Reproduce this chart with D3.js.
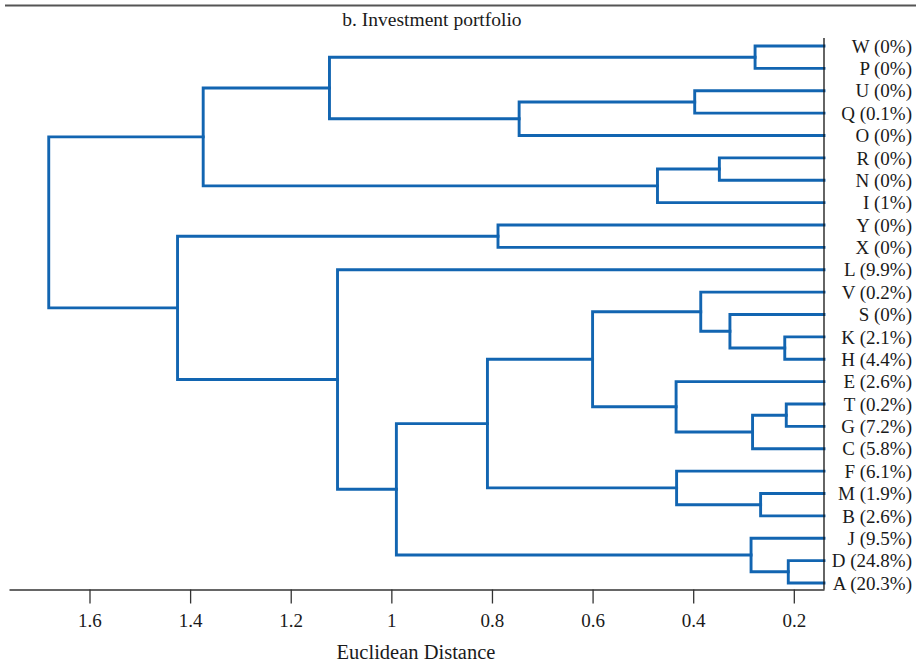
<!DOCTYPE html>
<html>
<head>
<meta charset="utf-8">
<script src="https://cdn.jsdelivr.net/npm/d3@7"></script>
<style>
  html, body { margin: 0; padding: 0; background: #fff; }
  svg { display: block; }
  text { font-family: "Liberation Serif", "DejaVu Serif", serif; fill: #1a1a1a; }
</style>
</head>
<body>
<svg id="chart" width="916" height="665"></svg>
<script>
// ---- data ----
const title = "b. Investment portfolio";
const axisTitle = "Euclidean Distance";
const leaves = ["W","P","U","Q","O","R","N","I","Y","X","L","V","S","K","H","E","T","G","C","F","M","B","J","D","A"];
const shares = ["0%","0%","0%","0.1%","0%","0%","0%","1%","0%","0%","9.9%","0.2%","0%","2.1%","4.4%","2.6%","0.2%","7.2%","5.8%","6.1%","1.9%","2.6%","9.5%","24.8%","20.3%"];
const tickValues = [1.6, 1.4, 1.2, 1.0, 0.8, 0.6, 0.4, 0.2];
const tickLabels = ["1.6","1.4","1.2","1","0.8","0.6","0.4","0.2"];
// merges: [node id, child a, child b, distance]
const merges = [
  ["n1","W","P",0.277],
  ["n2","U","Q",0.397],
  ["n3","n2","O",0.746],
  ["n4","n1","n3",1.123],
  ["n5","R","N",0.348],
  ["n6","n5","I",0.471],
  ["n7","n4","n6",1.374],
  ["n8","Y","X",0.788],
  ["n9","K","H",0.218],
  ["n10","S","n9",0.327],
  ["n11","V","n10",0.385],
  ["n12","T","G",0.215],
  ["n13","n12","C",0.282],
  ["n14","E","n13",0.434],
  ["n15","n11","n14",0.600],
  ["n16","M","B",0.266],
  ["n17","F","n16",0.433],
  ["n18","n15","n17",0.809],
  ["n19","D","A",0.211],
  ["n20","J","n19",0.285],
  ["n21","n18","n20",0.990],
  ["n22","L","n21",1.107],
  ["n23","n8","n22",1.425],
  ["n24","n7","n23",1.681]
];
const xDomain = [1.76, 0.14];

// ---- chart ----
const svg = d3.select("#chart");
const blue = "#1265b1";

const x = d3.scaleLinear().domain(xDomain).range([9, 824]);
const y = d3.scalePoint().domain(leaves).range([46, 583]);

// node positions
const pos = {};
leaves.forEach(l => { pos[l] = { x: x(xDomain[1]), y: y(l) }; });
merges.forEach(([id, a, b, h]) => {
  pos[id] = { x: x(h), y: (pos[a].y + pos[b].y) / 2 };
});

// top rule
svg.append("line")
  .attr("x1", 5).attr("x2", 916).attr("y1", 5.5).attr("y2", 5.5)
  .attr("stroke", "#555").attr("stroke-width", 1.8);

// title
svg.append("text")
  .attr("x", 432).attr("y", 26)
  .attr("text-anchor", "middle")
  .style("font-size", "19.5px")
  .text(title);

// dendrogram links
const g = svg.append("g")
  .attr("fill", "none")
  .attr("stroke", blue)
  .attr("stroke-width", 2.9)
  .attr("stroke-linecap", "square")
  .attr("stroke-linejoin", "miter");

merges.forEach(([id, a, b, h]) => {
  const p = pos[id], pa = pos[a], pb = pos[b];
  const path = d3.path();
  path.moveTo(pa.x, pa.y);
  path.lineTo(p.x, pa.y);
  path.lineTo(p.x, pb.y);
  path.lineTo(pb.x, pb.y);
  g.append("path").attr("d", path.toString());
});

// right boundary line
svg.append("line")
  .attr("x1", 824).attr("x2", 824).attr("y1", 38).attr("y2", 589.5)
  .attr("stroke", "#111").attr("stroke-width", 1.3);

// leaf labels
svg.append("g").selectAll("text")
  .data(leaves)
  .join("text")
  .attr("x", 912)
  .attr("y", d => y(d))
  .attr("dy", "0.35em")
  .attr("text-anchor", "end")
  .style("font-size", "19px")
  .text((d, i) => `${d} (${shares[i]})`);

// x axis
const axis = d3.axisBottom(x)
  .tickValues(tickValues)
  .tickFormat((d, i) => tickLabels[i])
  .tickSize(14)
  .tickSizeOuter(0)
  .tickPadding(10);

const ax = svg.append("g")
  .attr("transform", "translate(0,589.5)")
  .call(axis);
ax.select(".domain").attr("stroke", "#333").attr("stroke-width", 1.5);
ax.selectAll(".tick line").attr("stroke", "#333").attr("stroke-width", 1.3);
ax.selectAll(".tick text")
  .attr("fill", "#1a1a1a")
  .style("font-family", "'Liberation Serif', 'DejaVu Serif', serif")
  .style("font-size", "19px");

// axis title
svg.append("text")
  .attr("x", 416).attr("y", 659)
  .attr("text-anchor", "middle")
  .style("font-size", "20.5px")
  .text(axisTitle);
</script>
</body>
</html>
